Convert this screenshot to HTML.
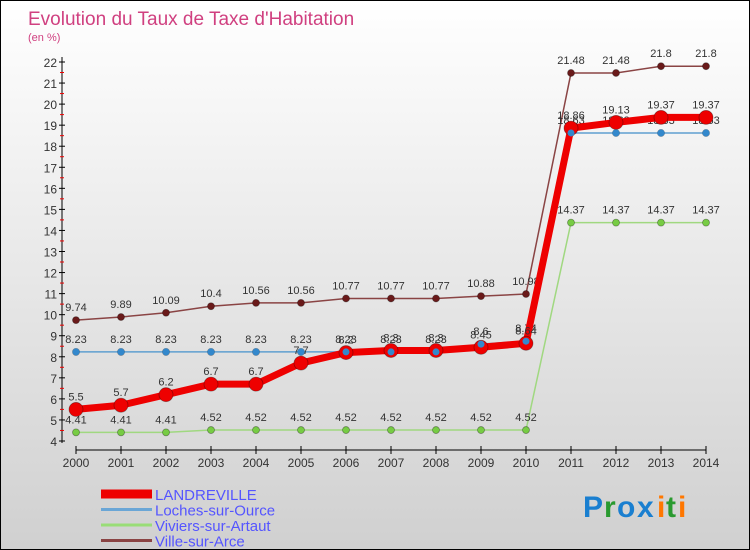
<!DOCTYPE html>
<html><head><meta charset="utf-8">
<style>
body{margin:0;}
#wrap{position:relative;width:750px;height:550px;box-sizing:border-box;border:1px solid #000;background:linear-gradient(#fff,#d0d0d0);font-family:"Liberation Sans",sans-serif;overflow:hidden;}
svg text{font-family:"Liberation Sans",sans-serif;}
</style></head><body>
<div id="wrap">
<svg id="chart" width="750" height="550">
<text x="27" y="24" font-size="19" fill="#d04080">Evolution du Taux de Taxe d'Habitation</text>
<text x="27" y="40" font-size="11" fill="#d04080">(en %)</text>
<g id="axes"></g>
<g id="series"></g>
<g id="legend"></g>
<g font-size="30" font-weight="bold">
<text x="582" y="516" fill="#1a7fd0">P</text><text x="603" y="516" fill="#2a9a30">r</text><text x="616" y="516" fill="#1a7fd0">o</text><text x="636" y="516" fill="#1a7fd0">x</text><text x="656" y="516" fill="#ff7700">i</text><text x="665" y="516" fill="#2a9a30">t</text><text x="677" y="516" fill="#ff7700">i</text>
</g>
</svg>
</div>
<script>
const years=["2000","2001","2002","2003","2004","2005","2006","2007","2008","2009","2010","2011","2012","2013","2014"];
const landreville=[5.5,5.7,6.2,6.7,6.7,7.7,8.2,8.3,8.3,8.45,8.64,18.86,19.13,19.37,19.37];
const loches=[8.23,8.23,8.23,8.23,8.23,8.23,8.23,8.23,8.23,8.6,8.74,18.63,18.63,18.63,18.63];
const viviers=[4.41,4.41,4.41,4.52,4.52,4.52,4.52,4.52,4.52,4.52,4.52,14.37,14.37,14.37,14.37];
const ville=[9.74,9.89,10.09,10.4,10.56,10.56,10.77,10.77,10.77,10.88,10.98,21.48,21.48,21.8,21.8];
const yTicks=[4,5,6,7,8,9,10,11,12,13,14,15,16,17,18,19,20,21,22];
const NS="http://www.w3.org/2000/svg";
function X(i){return 75+i*45;}
function Y(v){return 440-(v-4)*(440-61)/18;}
function mk(tag,attrs,parent){const e=document.createElementNS(NS,tag);for(const k in attrs)e.setAttribute(k,attrs[k]);parent.appendChild(e);return e;}
const axes=document.getElementById('axes');
let a=mk('line',{x1:61,y1:56,x2:61,y2:442,stroke:'#000'},axes);


yTicks.forEach(t=>{
  const y=Y(t);
  mk('line',{x1:58,y1:y,x2:64,y2:y,stroke:'#000'},axes);
  if(t>4) mk('line',{x1:59,y1:y+10.5,x2:63,y2:y+10.5,stroke:'#e00'},axes);
  const tx=mk('text',{x:56,y:y+5,'font-size':12,'text-anchor':'end',fill:'#333'},axes);
  tx.textContent=t;
  
  
});
a=mk('line',{x1:75,y1:449,x2:705,y2:449,stroke:'#000'},axes);


years.forEach((yr,i)=>{
  mk('line',{x1:X(i),y1:445,x2:X(i),y2:453,stroke:'#000'},axes);
  const tx=mk('text',{x:X(i),y:466,'font-size':12,'text-anchor':'middle',fill:'#333'},axes);
  tx.textContent=yr;
  
  
});
const sg=document.getElementById('series');
function draw(vals,name,color,width,r,fill,labels){
  const g=mk('g',{},sg);
  
  
  const pl=mk('polyline',{points:vals.map((v,i)=>X(i)+','+Y(v)).join(' '),fill:'none',stroke:color,'stroke-width':width,'stroke-linejoin':'round'},g);
  
  
  vals.forEach((v,i)=>{
    const c=mk('circle',{cx:X(i),cy:Y(v),r:r,fill:fill,stroke:'rgba(0,0,0,0.35)','stroke-width':0.8},g);
    
    
    if(labels){
      const t=mk('text',{x:X(i),y:Y(v)-9,'font-size':11,'text-anchor':'middle',fill:'#333'},g);
      t.textContent=v;
      
      
    }
  });
}
draw(viviers,'viviers-sur-artaut','#a0d880',1.5,3.5,'#77cc44',true);
draw(ville,'ville-sur-arce','#8a4444',1.5,3.5,'#6a1a1a',true);
draw(loches,'loches-sur-ource','#5f9fd0',1.5,3.5,'#3388cc',true);
draw(landreville,'landreville','#ee0000',7,7,'#ee0000',true);
loches.forEach((v,i)=>{const c=mk('circle',{cx:X(i),cy:Y(v),r:3.5,fill:'#3388cc'},sg);});
const lg=document.getElementById('legend');
const legendItems=[["LANDREVILLE","#ee0000",9],["Loches-sur-Ource","#6aa6d6",3],["Viviers-sur-Artaut","#99dd77",3],["Ville-sur-Arce","#8a4444",3]];
legendItems.forEach((it,k)=>{
  const y=493+k*15.5;
  const g=mk('g',{},lg);
  
  
  mk('line',{x1:100,y1:y,x2:151,y2:y,stroke:it[1],'stroke-width':it[2]},g);
  const t=mk('text',{x:154,y:y+6,'font-size':15,fill:'#5555ff'},g);
  t.textContent=it[0];
});
</script>
</body></html>
